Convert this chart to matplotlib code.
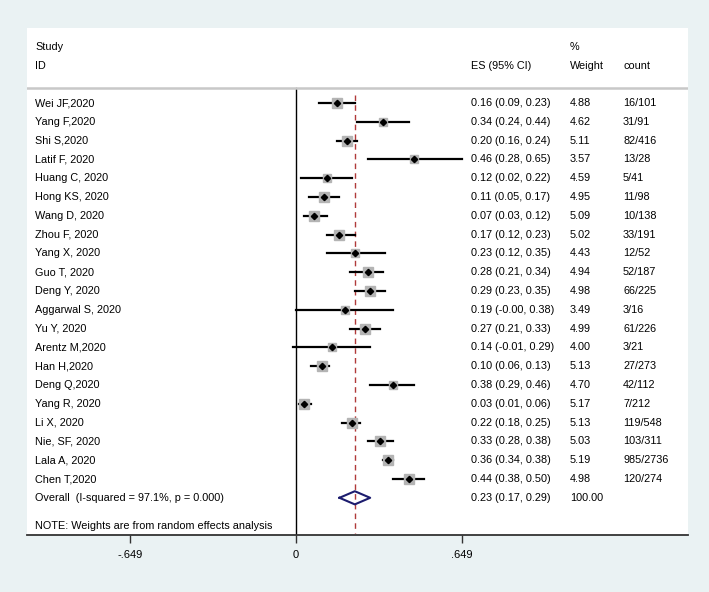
import numpy as np
import matplotlib.pyplot as plt

plt.rcParams['font.family'] = ['Liberation Sans', 'DejaVu Sans']

studies = ['Wei JF,2020', 'Yang F,2020', 'Shi S,2020', 'Latif F, 2020', 'Huang C, 2020',
           'Hong KS, 2020', 'Wang D, 2020', 'Zhou F, 2020', 'Yang X, 2020', 'Guo T, 2020',
           'Deng Y, 2020', 'Aggarwal S, 2020', 'Yu Y, 2020', 'Arentz M,2020', 'Han H,2020',
           'Deng Q,2020', 'Yang R, 2020', 'Li X, 2020', 'Nie, SF, 2020', 'Lala A, 2020',
           'Chen T,2020']
es = [0.16, 0.34, 0.20, 0.46, 0.12, 0.11, 0.07, 0.17, 0.23, 0.28, 0.29,
      0.19, 0.27, 0.14, 0.10, 0.38, 0.03, 0.22, 0.33, 0.36, 0.44]
lo = [0.09, 0.24, 0.16, 0.28, 0.02, 0.05, 0.03, 0.12, 0.12, 0.21, 0.23,
      -0.00, 0.21, -0.01, 0.06, 0.29, 0.01, 0.18, 0.28, 0.34, 0.38]
hi = [0.23, 0.44, 0.24, 0.65, 0.22, 0.17, 0.12, 0.23, 0.35, 0.34, 0.35,
      0.38, 0.33, 0.29, 0.13, 0.46, 0.06, 0.25, 0.38, 0.38, 0.50]
weights = [4.88, 4.62, 5.11, 3.57, 4.59, 4.95, 5.09, 5.02, 4.43, 4.94, 4.98,
           3.49, 4.99, 4.00, 5.13, 4.70, 5.17, 5.13, 5.03, 5.19, 4.98]
counts = ['16/101', '31/91', '82/416', '13/28', '5/41', '11/98', '10/138', '33/191',
          '12/52', '52/187', '66/225', '3/16', '61/226', '3/21', '27/273', '42/112',
          '7/212', '119/548', '103/311', '985/2736', '120/274']
overall = 0.23
overall_lo = 0.17
overall_hi = 0.29
overall_label = 'Overall  (I-squared = 97.1%, p = 0.000)'
xticks = [-0.649, 0, 0.649]
xticklabels = ['-.649', '0', '.649']

W, H = 709, 592
bg = '#eaf2f3'
fig = plt.figure(figsize=(W / 100, H / 100), dpi=100, facecolor=bg)

# white panel in pixels: x 27..688, y 28..535
px_l, px_r, px_t, px_b = 27, 688, 28, 535
ax = fig.add_axes([px_l / W, 1 - px_b / H, (px_r - px_l) / W, (px_b - px_t) / H])
ax.set_facecolor('white')

x0, scale = 296, 255.7  # pixel of 0 and pixels per unit
ax.set_xlim((px_l - x0) / scale, (px_r - x0) / scale)
row0, rowh = 103, 18.8
ax.set_ylim((px_b - row0) / rowh, (px_t - row0) / rowh)
ybot = ax.get_ylim()[0]

def col(px):
    return (px - px_l) / (px_r - px_l)

def row(py):
    return (py - row0) / rowh

fs = 7.8
tr = ax.get_yaxis_transform()
n = len(studies)
rule_y = row(88)
ov_row = n
note_row = row(526)

# zero line, dashed overall line, header rule
ax.plot([0, 0], [rule_y, ybot], color='black', lw=1.0, zorder=2)
ax.plot([overall, overall], [rule_y + 0.35, ybot - 0.1], color='#b03a3a',
        lw=1.0, ls=(0, (4, 3)), zorder=1)
ax.axhline(rule_y, color='#c8c8c8', lw=1.8, zorder=2)

for i in range(n):
    ax.plot([lo[i], hi[i]], [i, i], color='black', lw=1.6, zorder=3)
    side = 6.6 * np.sqrt(weights[i] / 4.88)
    ax.plot(es[i], i, marker='s', ms=side, color='#b4b4b4', mec='#b4b4b4', zorder=4)
    ax.plot(es[i], i, marker='D', ms=3.2, color='black', zorder=5)

    ax.text(col(35), i, studies[i], transform=tr, fontsize=fs, va='center')
    ax.text(col(471), i, f'{es[i]:.2f} ({lo[i]:.2f}, {hi[i]:.2f})', transform=tr,
            fontsize=fs, va='center')
    ax.text(col(570), i, f'{weights[i]:.2f}', transform=tr, fontsize=fs, va='center')
    ax.text(col(623), i, counts[i], transform=tr, fontsize=fs, va='center')

# overall diamond
dh = 0.35
ax.plot([overall_lo, overall, overall_hi, overall, overall_lo],
        [ov_row, ov_row - dh, ov_row, ov_row + dh, ov_row], color='#1c1c6e', lw=1.5, zorder=5)
ax.text(col(35), ov_row, overall_label, transform=tr, fontsize=fs, va='center')
ax.text(col(471), ov_row, f'{overall:.2f} ({overall_lo:.2f}, {overall_hi:.2f})',
        transform=tr, fontsize=fs, va='center')
ax.text(col(570), ov_row, f'{100:.2f}', transform=tr, fontsize=fs, va='center')
ax.text(col(35), note_row, 'NOTE: Weights are from random effects analysis', transform=tr,
        fontsize=fs, va='center')

# headers
ax.text(col(35), row(47), 'Study', transform=tr, fontsize=fs, va='center')
ax.text(col(35), row(66), 'ID', transform=tr, fontsize=fs, va='center')
ax.text(col(471), row(66), 'ES (95% CI)', transform=tr, fontsize=fs, va='center')
ax.text(col(570), row(47), '%', transform=tr, fontsize=fs, va='center')
ax.text(col(570), row(66), 'Weight', transform=tr, fontsize=fs, va='center')
ax.text(col(623), row(66), 'count', transform=tr, fontsize=fs, va='center')

for s in ['top', 'right', 'left']:
    ax.spines[s].set_visible(False)
ax.spines['bottom'].set_color('#333333')
ax.spines['bottom'].set_linewidth(1.3)
ax.set_yticks([])
ax.set_xticks(xticks)
ax.set_xticklabels(xticklabels, fontsize=fs + 0.2)
ax.tick_params(axis='x', direction='out', length=6, width=1.0, color='#333333', pad=5)

fig.savefig('out.png', dpi=100, facecolor=bg)
